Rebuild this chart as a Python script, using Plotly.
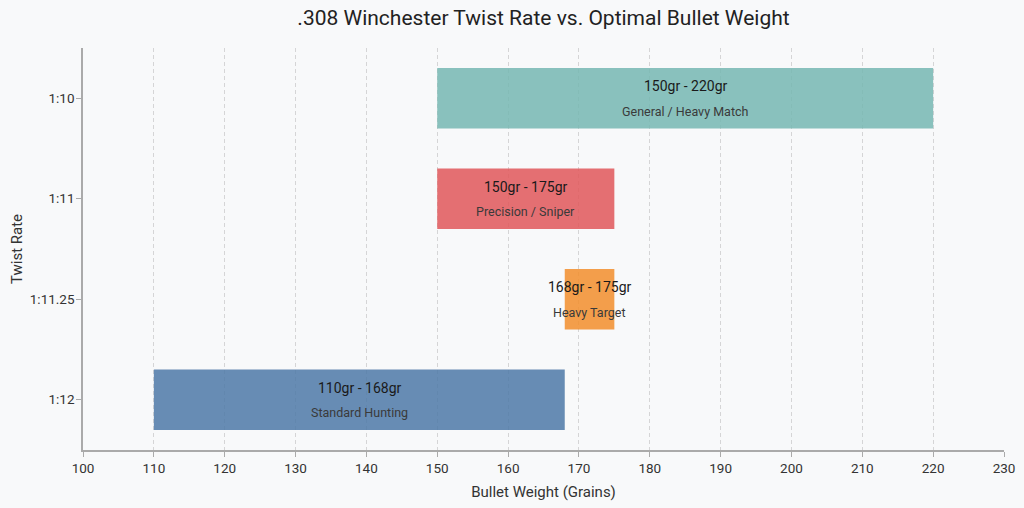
import plotly.graph_objects as go

# Data
twist_rates = ["1:12", "1:11.25", "1:11", "1:10"]
min_weight = [110, 168, 150, 150]
max_weight = [168, 175, 175, 220]
uses = ["Standard Hunting", "Heavy Target", "Precision / Sniper", "General / Heavy Match"]
colors = ["rgba(78,121,167,0.85)", "rgba(242,142,43,0.85)",
          "rgba(225,87,89,0.85)", "rgba(118,183,178,0.85)"]

font_family = "Roboto, 'Open Sans', sans-serif"

fig = go.Figure()
fig.add_trace(go.Bar(
    y=twist_rates,
    x=[hi - lo for lo, hi in zip(min_weight, max_weight)],
    base=min_weight,
    orientation="h",
    width=0.6,
    marker=dict(color=colors, line=dict(width=0)),
    hoverinfo="none",
))

# Two-line labels inside each bar
for rate, lo, hi, use in zip(twist_rates, min_weight, max_weight, uses):
    mid = (lo + hi) / 2
    fig.add_annotation(x=mid, y=rate, text=f"{lo}gr - {hi}gr", showarrow=False,
                       yshift=12, font=dict(size=14, color="#1a1a1a", family=font_family))
    fig.add_annotation(x=mid, y=rate, text=use, showarrow=False,
                       yshift=-13, font=dict(size=12.5, color="#3a3a3a", family=font_family))

fig.update_layout(
    title=dict(text=".308 Winchester Twist Rate vs. Optimal Bullet Weight",
               x=0.5, xref="paper", y=0.965, yanchor="middle",
               font=dict(size=21, color="#222222", family=font_family)),
    width=1024, height=508,
    margin=dict(l=83, r=20, t=48, b=58),
    paper_bgcolor="#f8f9fa",
    plot_bgcolor="#f8f9fa",
    showlegend=False,
    font=dict(family=font_family, color="#333333", size=13),
    xaxis=dict(
        title=dict(text="Bullet Weight (Grains)", font=dict(size=15), standoff=12),
        range=[100, 230], dtick=10, tick0=100, automargin=False,
        showgrid=True, gridcolor="rgba(160,160,160,0.4)", griddash="4px,3px", gridwidth=1,
        showline=True, linecolor="#aaaaaa", linewidth=1.5,
        ticks="outside", ticklen=5, tickcolor="#aaaaaa",
        zeroline=False, layer="above traces",
        tickfont=dict(size=13.5, color="#333333"),
    ),
    yaxis=dict(
        title=dict(text="Twist Rate", font=dict(size=15), standoff=4),
        categoryorder="array", categoryarray=twist_rates,
        range=[-0.5, 3.5], automargin=False,
        showgrid=False, ticklabelstandoff=-1,
        showline=True, linecolor="#aaaaaa", linewidth=1.5,
        ticks="outside", ticklen=5, tickcolor="#aaaaaa",
        zeroline=False,
        tickfont=dict(size=13.5, color="#333333"),
    ),
)

fig.write_html("out.html", config={"displayModeBar": False},
               post_script="document.body.style.margin='0';")
